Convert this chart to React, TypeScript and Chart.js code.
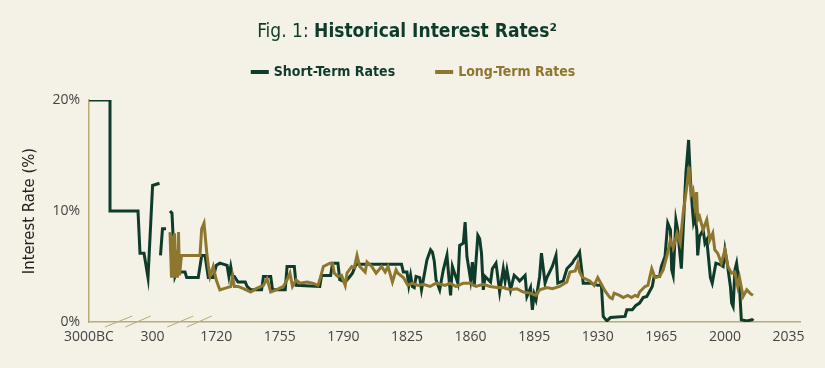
import React, { useEffect, useRef } from "react";
import { Chart, registerables } from "chart.js";

Chart.register(...registerables);

// ---------- data ----------
const tickLabels = ["3000BC", "300", "1720", "1755", "1790", "1825", "1860", "1895", "1930", "1965", "2000", "2035"];

const shortYears = [
  -3000, -1910, -1910, -457, -354, -146, 62, 300, 454, 465, 476, 521, 599, 640,
  689, 733, 800, 838, 1024, 1061, 1320, 1396, 1470, 1544, 1655, 1720,
  1722, 1726, 1727, 1728, 1729, 1730, 1732, 1736, 1737, 1739, 1745, 1746, 1750, 1751,
  1758, 1759, 1763, 1764, 1777, 1778, 1783, 1784, 1787, 1788, 1791, 1793.6, 1795, 1797,
  1822, 1823, 1825, 1826, 1827, 1828, 1829, 1830, 1832, 1833, 1835, 1836, 1838, 1839,
  1840, 1841, 1843, 1845, 1847, 1848, 1849, 1850, 1853, 1854, 1856, 1857, 1858, 1860,
  1861, 1862, 1864, 1865, 1866, 1867, 1868, 1871, 1872, 1874, 1876, 1878, 1879, 1880,
  1882, 1884, 1886, 1887, 1890, 1891, 1893, 1894, 1895, 1896, 1898, 1899, 1901, 1902,
  1905, 1907, 1908, 1911, 1913, 1916, 1917, 1919, 1920, 1922, 1926, 1930, 1932, 1933,
  1935, 1937, 1945, 1946, 1949, 1951, 1953, 1955, 1957, 1959, 1960, 1961, 1964, 1965,
  1967, 1968.5, 1970, 1970.7, 1971.5, 1972.3, 1973, 1974, 1975, 1976, 1977, 1978.5, 1980,
  1981, 1982, 1982.7, 1983.5, 1984.5, 1985, 1986, 1988, 1989, 1990, 1992, 1993, 1995,
  1997, 1999, 2000, 2001.5, 2003, 2003.7, 2004.5, 2005.5, 2006.4, 2008, 2009, 2012, 2015, 2015.5,
];
const shortRates: (number | null)[] = [
  20, 20, 10, 10, 6.2, 6.2, 4.0, 12.3, 12.5, null, 6.0, 8.4, 8.4, null,
  10.0, 9.8, 4.1, 4.5, 4.5, 4.0, 4.0, 6.0, 6.0, 4.0, 4.0, 5.1,
  5.3, 5.1, 4.1, 5.0, 4.1, 4.1, 3.6, 3.6, 3.2, 2.9, 2.9, 4.1, 4.1, 2.9,
  2.9, 5.0, 5.0, 3.3, 3.2, 4.2, 4.2, 5.3, 5.3, 3.8, 3.6, 4.1, 4.4, 5.2,
  5.2, 4.5, 4.5, 3.3, 4.2, 3.2, 3.1, 4.1, 4.0, 2.9, 4.7, 5.6, 6.5, 6.3,
  5.5, 3.8, 2.9, 4.7, 6.0, 4.1, 2.4, 5.0, 3.5, 6.9, 7.1, 9.0, 5.9, 3.8,
  5.4, 3.2, 7.8, 7.5, 6.2, 2.9, 4.1, 3.6, 4.8, 5.3, 2.7, 4.8, 3.7, 4.7,
  2.9, 4.2, 3.9, 3.7, 4.2, 2.3, 3.1, 1.1, 2.5, 2.0, 4.1, 6.2, 3.5, 4.0,
  5.0, 6.0, 3.5, 3.7, 4.8, 5.3, 5.6, 6.0, 6.3, 3.5, 3.5, 3.3, 3.3, 0.5,
  0.1, 0.4, 0.5, 1.1, 1.1, 1.5, 1.7, 2.2, 2.3, 2.9, 3.2, 4.1, 4.1, 5.0,
  5.9, 8.9, 8.3, 4.7, 4.2, 6.8, 9.2, 8.3, 6.5, 4.8, 8.3, 13.4, 16.4,
  12.8, 10.4, 9.0, 9.5, 8.3, 6.0, 7.7, 8.3, 7.1, 7.4, 4.0, 3.5, 5.3,
  5.2, 5.0, 6.5, 5.0, 3.2, 1.7, 1.4, 4.7, 5.3, 3.2, 0.2, 0.1, 0.2, 0.3,
];

const longYears = [
  689, 722, 744, 767, 789, 811, 834, 856, 878, 901, 945, 1358, 1396, 1448, 1508, 1544,
  1582, 1655, 1720, 1722, 1726, 1728, 1729, 1730, 1732, 1735, 1739, 1742, 1746, 1748,
  1750, 1753, 1757, 1759, 1760.6, 1762, 1764, 1766, 1770, 1773, 1776, 1777, 1779, 1782.6,
  1784, 1785, 1787, 1789, 1791, 1792, 1794.6, 1796, 1797.5, 1799, 1802, 1803, 1805.6, 1808,
  1811, 1813, 1814.6, 1817, 1819, 1820, 1823, 1825.5, 1828, 1831, 1834, 1837.7, 1841, 1846,
  1848.7, 1852, 1856, 1859.7, 1863, 1867, 1870.7, 1874.5, 1878, 1881.7, 1885.5, 1889, 1892.7,
  1896, 1898, 1902, 1905, 1909, 1913, 1914.7, 1917.6, 1919, 1920, 1921.7, 1925.6, 1928, 1930,
  1932, 1934, 1936.7, 1938, 1939, 1942, 1944, 1946.5, 1948.6, 1950.5, 1952, 1953, 1956, 1957.6,
  1959.7, 1961.5, 1964, 1966, 1968, 1970, 1971.6, 1973.6, 1975.4, 1977, 1979, 1980.2, 1981.3,
  1982.4, 1983.5, 1984.4, 1985, 1986, 1988, 1990, 1991.7, 1993.3, 1994.4, 1996, 1998, 2000,
  2001.6, 2003.7, 2005.4, 2007, 2008, 2010, 2012, 2013.7, 2015.4,
];
const longRates = [
  8.1, 4.0, 7.8, 4.0, 8.0, 4.0, 6.5, 4.0, 8.1, 4.2, 6.0, 6.0, 8.4, 8.9, 6.3, 5.1,
  4.1, 5.0, 3.8, 2.9, 3.1, 3.2, 4.1, 3.2, 3.2, 3.0, 2.7, 3.0, 3.3, 3.9,
  2.7, 2.9, 3.2, 3.8, 4.4, 3.2, 3.8, 3.5, 3.6, 3.5, 3.3, 3.8, 5.0, 5.3,
  5.3, 4.4, 4.1, 4.2, 3.3, 4.4, 5.0, 4.9, 6.0, 5.0, 4.5, 5.4, 5.0, 4.4,
  5.0, 4.5, 5.0, 3.6, 4.7, 4.4, 4.0, 3.3, 3.5, 3.3, 3.4, 3.2, 3.5, 3.3,
  3.5, 3.2, 3.5, 3.5, 3.2, 3.4, 3.2, 3.1, 3.1, 2.9, 3.0, 2.7, 2.6,
  2.4, 2.9, 3.1, 3.0, 3.2, 3.6, 4.5, 4.6, 5.3, 4.5, 4.0, 3.7, 3.3, 4.0,
  3.4, 2.8, 2.2, 2.1, 2.6, 2.4, 2.2, 2.4, 2.2, 2.4, 2.3, 2.7, 3.2, 3.3,
  4.8, 4.0, 4.1, 4.7, 5.9, 7.4, 6.7, 8.0, 7.1, 9.8, 12.2, 14.0, 11.5,
  11.9, 10.4, 11.7, 9.2, 9.5, 8.3, 9.2, 7.4, 8.0, 6.5, 6.2, 5.3, 6.5,
  5.0, 4.4, 4.5, 3.2, 4.0, 2.3, 2.9, 2.6, 2.4,
];

// ---------- style ----------
const BG = "#f4f1e6";
const DARK = "#0e3b2a";
const GOLD = "#8d772f";
const AXIS = "#bba977";
const TICK = "#444444";
const COND = '"Liberation Sans Narrow", "DejaVu Sans Condensed", "Roboto Condensed", sans-serif';
const SANS = '"Open Sans", "Noto Sans", sans-serif';

// piecewise axis (broken axis): 3000BC..300, 300..1720, then 35 years per tick
function toPos(year: number): number {
  if (year < 300) return (year + 3000) / 3300;
  if (year < 1720) return 1 + (year - 300) / 1420;
  return 2 + (year - 1720) / 35;
}

const breakMarks = [
  [0.25, 0.68],
  [0.57, 0.97],
  [1.23, 1.64],
  [1.54, 1.93],
];

const decorPlugin = {
  id: "decor",
  beforeDraw(chart: any) {
    const ctx = chart.ctx;
    ctx.save();
    ctx.fillStyle = BG;
    ctx.fillRect(0, 0, chart.width, chart.height);
    ctx.restore();
  },
  afterDraw(chart: any) {
    const ctx = chart.ctx;
    const { top, bottom } = chart.chartArea;
    const xs = chart.scales.x;
    ctx.save();
    // title
    const t1 = "Fig. 1: ";
    const t2 = "Historical Interest Rates²";
    ctx.textBaseline = "middle";
    ctx.font = `19px ${COND}`;
    const w1 = ctx.measureText(t1).width;
    ctx.font = `bold 19px ${COND}`;
    const w2 = ctx.measureText(t2).width;
    let x = 407 - (w1 + w2) / 2;
    ctx.fillStyle = DARK;
    ctx.font = `19px ${COND}`;
    ctx.textAlign = "left";
    ctx.fillText(t1, x, 32);
    ctx.font = `bold 19px ${COND}`;
    ctx.fillText(t2, x + w1, 32);

    // legend
    const items = [
      { text: "Short-Term Rates", color: DARK },
      { text: "Long-Term Rates", color: GOLD },
    ];
    ctx.font = `bold 14px ${COND}`;
    const sw = 18, gap = 5, between = 40;
    const widths = items.map((it) => sw + gap + ctx.measureText(it.text).width);
    const total = widths[0] + widths[1] + between;
    x = 413 - total / 2;
    items.forEach((it, i) => {
      ctx.fillStyle = it.color;
      ctx.fillRect(x, 70, sw, 4);
      ctx.fillText(it.text, x + sw + gap, 72);
      x += widths[i] + between;
    });

    // y-axis title
    ctx.save();
    ctx.translate(30, (top + bottom) / 2);
    ctx.rotate(-Math.PI / 2);
    ctx.textAlign = "center";
    ctx.fillStyle = "#222222";
    ctx.font = `16.5px ${COND}`;
    ctx.fillText("Interest Rate (%)", 0, 0);
    ctx.restore();

    // axis break marks
    ctx.strokeStyle = AXIS;
    ctx.lineWidth = 1;
    breakMarks.forEach(([a, b]) => {
      ctx.beginPath();
      ctx.moveTo(xs.getPixelForValue(a), bottom + 5);
      ctx.lineTo(xs.getPixelForValue(b), bottom - 6);
      ctx.stroke();
    });
    ctx.restore();
  },
};

export default function App() {
  const ref = useRef<HTMLCanvasElement>(null);
  useEffect(() => {
    const shortData = shortYears.map((y, i) => ({ x: toPos(y), y: shortRates[i] }));
    const longData = longYears.map((y, i) => ({ x: toPos(y), y: longRates[i] }));
    const chart = new Chart(ref.current as HTMLCanvasElement, {
      type: "line",
      data: {
        datasets: [
          {
            label: "Short-Term Rates",
            data: shortData as any,
            borderColor: DARK,
            backgroundColor: DARK,
            borderWidth: 3,
            pointRadius: 0,
            tension: 0,
            spanGaps: false,
            order: 2,
          },
          {
            label: "Long-Term Rates",
            data: longData as any,
            borderColor: GOLD,
            backgroundColor: GOLD,
            borderWidth: 3,
            pointRadius: 0,
            tension: 0,
            order: 1,
          },
        ],
      },
      options: {
        responsive: false,
        animation: false,
        events: [],
        layout: { padding: { top: 100, right: 25, bottom: 14, left: 8 } },
        plugins: {
          legend: { display: false },
          title: { display: false },
          tooltip: { enabled: false },
        },
        scales: {
          x: {
            type: "linear",
            min: 0,
            max: 11.18,
            grid: { display: false, drawTicks: false },
            border: { color: AXIS, width: 1.5 },
            afterBuildTicks: (scale: any) => {
              scale.ticks = tickLabels.map((_, i) => ({ value: i }));
            },
            afterFit: (scale: any) => {
              scale.height = 32;
            },
            ticks: {
              autoSkip: false,
              maxRotation: 0,
              padding: 7,
              color: TICK,
              font: { family: SANS, size: 14 },
              callback: (v: any) => tickLabels[Math.round(Number(v))] ?? "",
            },
          },
          y: {
            min: 0,
            max: 20,
            grid: { display: false, drawTicks: false },
            border: { color: AXIS, width: 1.5 },
            afterFit: (scale: any) => {
              scale.width = 81;
            },
            ticks: {
              stepSize: 10,
              padding: 9,
              color: TICK,
              font: { family: SANS, size: 14 },
              callback: (v: any) => `${v}%`,
            },
          },
        },
      },
      plugins: [decorPlugin],
    });
    return () => chart.destroy();
  }, []);

  return (
    <div style={{ position: "fixed", left: 0, top: 0, width: 825, height: 368, background: BG }}>
      <canvas ref={ref} width={825} height={368} style={{ display: "block" }} />
    </div>
  );
}
